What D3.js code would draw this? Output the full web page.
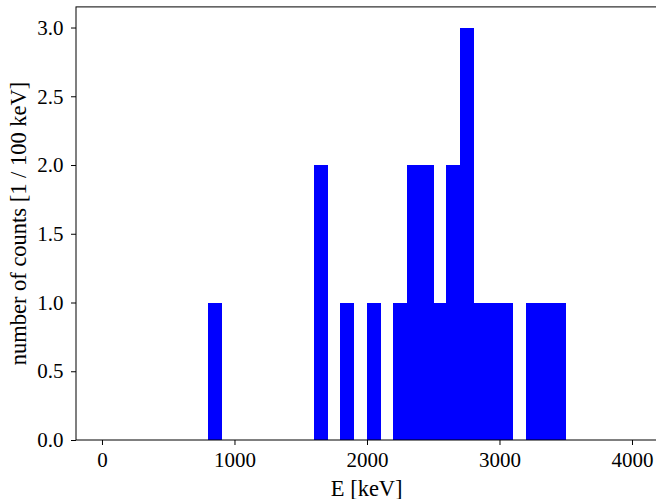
<!DOCTYPE html>
<html><head><meta charset="utf-8">
<script src="https://cdn.jsdelivr.net/npm/d3@7"></script>
<style>body{margin:0;background:#fff}svg{display:block}text{font-family:"Liberation Serif","Times New Roman",serif}</style>
</head><body><svg id="c" width="656" height="499"></svg>
<script>
const binStarts = [800,1600,1800,2000,2200,2300,2400,2500,2600,2700,2800,2900,3000,3200,3300,3400];
const counts    = [1,  2,   1,   1,   1,   2,   2,   1,   2,   3,   1,   1,   1,   1,   1,   1];
const binWidth = 100;
const xTicks = [0,1000,2000,3000,4000];
const yTicks = [0,0.5,1.0,1.5,2.0,2.5,3.0];

const svg = d3.select("#c");
const pL=76, pR=658.5, pT=6.9, pB=440;
const x = d3.scaleLinear().domain([-196,4200]).range([pL,pR]);
const y = d3.scaleLinear().domain([0,3.15]).range([pB,pT]);

svg.append("g").attr("shape-rendering","crispEdges").selectAll("rect").data(binStarts).join("rect")
  .attr("x",(d)=>x(d)).attr("width",(d)=>x(d+binWidth)-x(d)+0.6)
  .attr("y",(d,i)=>y(counts[i])).attr("height",(d,i)=>y(0)-y(counts[i]))
  .attr("fill","#0000ff");

const xa = svg.append("g").attr("transform",`translate(0,${pB})`)
  .call(d3.axisBottom(x).tickValues(xTicks).tickFormat(d3.format("d")).tickSize(5).tickPadding(7));
const ya = svg.append("g").attr("transform",`translate(${pL},0)`)
  .call(d3.axisLeft(y).tickValues(yTicks).tickFormat(d3.format(".1f")).tickSize(5).tickPadding(7.5));
[xa,ya].forEach(a=>{a.select(".domain").remove();a.selectAll("text").attr("font-size",21).attr("fill","#000");a.selectAll("line").attr("stroke","#000").attr("stroke-width",1);});

svg.append("rect").attr("x",pL).attr("y",pT).attr("width",pR-pL).attr("height",pB-pT)
  .attr("fill","none").attr("stroke","#000").attr("stroke-width",1);

svg.append("text").attr("x",366.7).attr("y",495.5).attr("text-anchor","middle")
  .attr("font-size",22.5).text("E [keV]");
svg.append("text").attr("transform",`translate(26,${223.5}) rotate(-90)`).attr("text-anchor","middle")
  .attr("font-size",22.5).text("number of counts [1 / 100 keV]");
</script></body></html>
